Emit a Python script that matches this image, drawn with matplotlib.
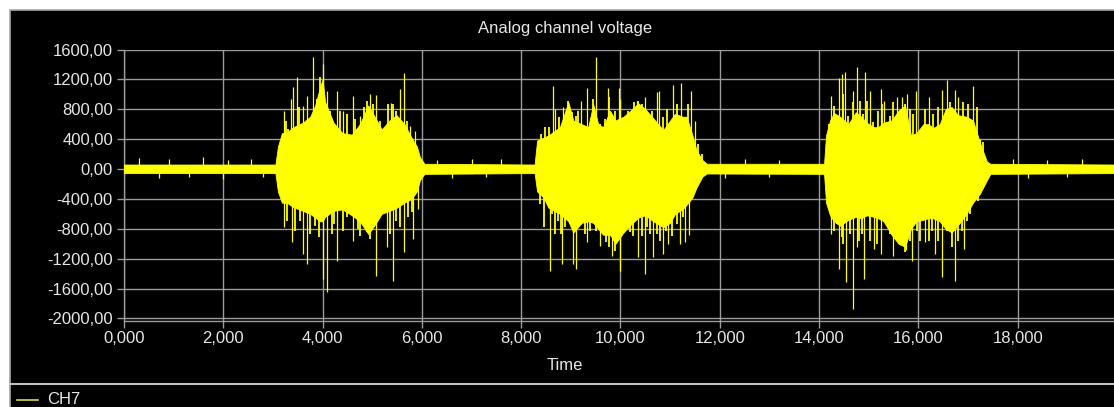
import matplotlib
matplotlib.use("Agg")
import matplotlib.pyplot as plt
from matplotlib.patches import Rectangle
from matplotlib.lines import Line2D
from matplotlib.ticker import FuncFormatter

# ---------------- data ----------------
title = "Analog channel voltage"
x_label = "Time"
series_name = "CH7"

# envelope of the dense signal: time (s), upper and lower value
env_t = [0.0, 3.05, 3.10, 3.18, 3.30, 3.41, 3.60, 3.75, 3.85, 3.95, 4.00, 4.05, 4.22, 4.40,
         4.59, 4.75, 4.92, 5.05, 5.19, 5.35, 5.49, 5.65, 5.79, 5.90, 5.96, 6.05,
         8.27, 8.32, 8.45, 8.55, 8.78, 8.95, 9.05, 9.22, 9.35, 9.45, 9.55, 9.65, 9.79,
         9.90, 10.06, 10.20, 10.36, 10.50, 10.66, 10.86, 11.00, 11.10, 11.25, 11.33,
         11.45, 11.53, 11.65, 11.74,
         14.10, 14.14, 14.22, 14.30, 14.42, 14.59, 14.74, 14.85, 14.96, 15.10, 15.19,
         15.30, 15.46, 15.60, 15.73, 15.85, 15.96, 16.10, 16.20, 16.30, 16.43, 16.55,
         16.67, 16.80, 16.97, 17.10, 17.24, 17.38, 17.45, 19.94]
env_hi = [60, 60, 300, 480, 500, 560, 620, 700, 850, 1100, 1200, 900, 620, 480,
          460, 600, 850, 700, 530, 650, 720, 600, 420, 300, 160, 70,
          60, 380, 420, 450, 560, 895, 650, 600, 560, 870, 600, 560, 780,
          650, 700, 780, 880, 800, 680, 520, 650, 740, 700, 700,
          450, 250, 120, 70,
          70, 450, 650, 750, 700, 600, 760, 700, 620, 560, 560,
          620, 650, 780, 850, 450, 480, 600, 600, 550, 600, 800,
          830, 720, 700, 650, 350, 100, 70, 60]
env_lo = [-55, -55, -300, -450, -460, -510, -560, -600, -650, -700, -700, -640, -560, -540,
          -620, -700, -870, -750, -600, -560, -520, -450, -400, -300, -150, -65,
          -55, -300, -380, -520, -600, -700, -850, -720, -700, -720, -800, -880, -880,
          -1000, -850, -750, -650, -620, -700, -780, -720, -600, -540, -480,
          -380, -250, -100, -60,
          -65, -450, -620, -700, -760, -680, -640, -660, -620, -640, -660,
          -700, -880, -1000, -1040, -800, -700, -680, -660, -660, -700, -800,
          -850, -750, -600, -450, -330, -150, -65, -55]

# tall individual spikes: time (s), value
spike_up_t = [3.22, 3.36, 3.41, 3.49, 3.60, 3.68, 3.81, 4.01, 4.08, 4.30, 4.42, 4.61, 4.75,
              4.96, 5.08, 5.37, 5.56, 5.64, 5.77, 5.86,
              8.65, 8.69, 8.84, 9.20, 9.32, 9.51, 9.74, 9.96, 9.99, 10.33, 10.49, 10.73,
              10.78, 11.05, 11.22, 11.43, 11.50,
              14.25, 14.41, 14.46, 14.53, 14.68, 14.76, 14.92, 15.02, 15.24, 15.31, 15.57,
              15.68, 15.78, 15.96, 16.22, 16.47, 16.57, 16.73, 16.80, 17.09, 17.25,
              0.30, 0.90, 1.60, 2.10, 2.55, 6.30, 7.00, 7.60, 12.50, 13.20, 17.90, 18.60, 19.30]
spike_up_v = [780, 935, 1100, 1230, 850, 980, 1500, 1405, 1050, 1050, 780, 980, 715,
              1000, 995, 880, 1070, 1280, 580, 510,
              1115, 800, 825, 905, 1090, 1500, 1080, 1085, 935, 915, 970, 1025,
              1040, 1130, 1145, 1050, 645,
              980, 1225, 1270, 1295, 1050, 1360, 1305, 1050, 1070, 915, 970,
              960, 1000, 1040, 960, 1055, 1190, 1055, 970, 1115, 400,
              150, 130, 160, 120, 140, 120, 140, 130, 130, 120, 140, 120, 130]
spike_dn_t = [3.22, 3.38, 3.61, 3.68, 4.01, 4.08, 4.30, 4.62, 5.08, 5.29, 5.42, 5.63, 5.83, 5.93,
              8.58, 8.83, 9.05, 9.10, 9.32, 9.59, 9.82, 9.99, 10.36, 10.49, 10.66, 10.85,
              10.96, 11.20, 11.30, 11.37,
              14.23, 14.41, 14.54, 14.68, 14.76, 14.91, 15.11, 15.24, 15.49, 15.76, 15.88,
              16.13, 16.33, 16.48, 16.74, 16.92,
              0.70, 1.30, 2.00, 2.80, 6.60, 7.30, 12.10, 13.00, 18.20, 19.00]
spike_dn_v = [-780, -980, -1140, -1270, -1470, -1650, -1225, -960, -1430, -1050, -1495, -1115,
              -935, -535,
              -1360, -1270, -1270, -1340, -980, -1025, -1160, -1360, -1180, -1405, -1180,
              -1140, -1000, -1000, -980, -890,
              -870, -1340, -1515, -1870, -1050, -1470, -1070, -1140, -1160, -1090, -1225,
              -980, -1140, -1450, -1495, -1070,
              -120, -110, -130, -110, -120, -110, -120, -110, -120, -110]

# shorter spikes forming the ragged edge of each burst: time (s), value
minor_up_t = [3.263, 3.309, 3.531, 3.746, 3.894, 3.947, 4.149, 4.350, 4.498, 4.652, 4.834,
              4.901, 5.008, 5.156, 5.324, 5.424, 5.478, 5.693,
              8.391, 8.479, 8.566, 8.767, 8.948, 9.029, 9.103, 9.150, 9.438, 9.586, 9.687,
              9.774, 9.888, 10.157, 10.271, 10.358, 10.425, 10.627, 10.862, 10.929, 11.130,
              11.365, 11.567, 11.634,
              14.205, 14.299, 14.487, 14.588, 14.689, 14.823, 14.877, 14.971, 15.092, 15.192,
              15.259, 15.427, 15.494, 15.729, 15.830, 15.897, 16.132, 16.300, 16.400, 16.635,
              16.904, 17.005, 17.173, 17.307]
minor_up_v = [646, 535, 825, 646, 937, 1226, 780, 780, 736, 669, 825,
              914, 870, 646, 870, 870, 780, 646,
              468, 557, 557, 691, 914, 758, 713, 780, 937, 602, 669,
              959, 780, 780, 892, 914, 870, 780, 691, 803, 870,
              870, 334, 201,
              602, 847, 1003, 713, 892, 914, 736, 914, 624, 780,
              870, 713, 892, 870, 803, 736, 803, 736, 825, 892,
              892, 870, 825, 357]
minor_dn_t = [3.276, 3.444, 3.545, 3.746, 3.847, 3.934, 4.182, 4.229, 4.417, 4.498, 4.706,
              4.753, 4.887, 4.954, 5.156, 5.357, 5.478, 5.559, 5.726, 5.794,
              8.378, 8.458, 8.613, 8.680, 8.747, 8.794, 8.881, 8.982, 9.150, 9.284, 9.385,
              9.506, 9.620, 9.707, 9.774, 9.888, 10.056, 10.123, 10.190, 10.257, 10.425,
              10.526, 10.593, 10.727, 10.794, 10.915, 11.029, 11.130, 11.264, 11.432,
              14.299, 14.353, 14.454, 14.487, 14.622, 14.810, 14.857, 15.024, 15.159, 15.360,
              15.427, 15.528, 15.662, 15.729, 15.830, 15.964, 16.031, 16.219, 16.266, 16.400,
              16.568, 16.669, 16.803, 16.870, 16.971, 17.038, 17.206]
minor_dn_v = [-691, -825, -691, -870, -758, -914, -870, -736, -825, -647, -803,
              -892, -847, -936, -602, -870, -691, -780, -647, -580,
              -468, -780, -602, -870, -691, -870, -780, -736, -736, -870, -825,
              -825, -780, -981, -1048, -1093, -825, -736, -847, -892, -892,
              -780, -870, -870, -959, -825, -892, -736, -647, -379,
              -825, -736, -914, -1003, -870, -959, -870, -959, -1003, -736,
              -870, -736, -1003, -1115, -959, -825, -959, -959, -825, -959,
              -825, -1048, -959, -825, -691, -602, -424]

x_ticks = [0, 2, 4, 6, 8, 10, 12, 14, 16, 18]
y_ticks = [1600, 1200, 800, 400, 0, -400, -800, -1200, -1600, -2000]

# ---------------- figure ----------------
W, H = 1114, 407
plt.rcParams["font.family"] = ["Liberation Sans", "DejaVu Sans"]
fig = plt.figure(figsize=(W / 100, H / 100), dpi=100, facecolor="white")


def fx(px):
    return px / W


def fy(py):
    return 1 - py / H


GRID = "#9a9a9a"
TXT = "#e6e6e6"
YEL = "#ffff00"

# black panel with grey border (drawn behind everything)
fig.patches.append(Rectangle((fx(9.5), fy(H + 5)), 1.2, fy(9.5) - fy(H + 5),
                             transform=fig.transFigure, facecolor="black",
                             edgecolor="#a8a8a8", linewidth=1.2, zorder=-10))
# separator between plot and legend area
fig.lines.append(Line2D([fx(10), 1], [fy(383.5), fy(383.5)], transform=fig.transFigure,
                        color="#c0c0c0", linewidth=1.5, zorder=-5))

left, right = 124, 1114
top, bottom = 49.5, 321
ax = fig.add_axes([fx(left), fy(bottom), fx(right) - fx(left), fy(top) - fy(bottom)])
ax.set_zorder(5)
ax.set_facecolor("black")
ax.set_xlim(0, 19.94)
ax.set_ylim(-2035, 1600)

ax.fill_between(env_t, env_lo, env_hi, color=YEL, linewidth=0.6, edgecolor=YEL, zorder=3)
ax.vlines(spike_up_t, 0, spike_up_v, color=YEL, linewidth=0.9, zorder=3)
ax.vlines(spike_dn_t, 0, spike_dn_v, color=YEL, linewidth=0.9, zorder=3)
ax.vlines(minor_up_t, 0, minor_up_v, color=YEL, linewidth=1.3, zorder=3)
ax.vlines(minor_dn_t, 0, minor_dn_v, color=YEL, linewidth=1.3, zorder=3)

ax.set_xticks(x_ticks)
ax.set_yticks(y_ticks)
ax.xaxis.set_major_formatter(FuncFormatter(lambda v, p: f"{v:.3f}".replace(".", ",")))
ax.yaxis.set_major_formatter(FuncFormatter(lambda v, p: f"{v:.2f}".replace(".", ",")))
ax.grid(True, color=GRID, linewidth=1.0, zorder=1)
ax.set_axisbelow(True)
for s in ("top", "right"):
    ax.spines[s].set_visible(False)
for s in ("left", "bottom"):
    ax.spines[s].set_color(GRID)
    ax.spines[s].set_linewidth(1.0)
ax.tick_params(axis="both", colors=GRID, labelcolor=TXT, labelsize=12, length=5, width=1.0)
ax.tick_params(axis="x", pad=2)
ax.tick_params(axis="y", pad=3)

fig.text(fx(565), fy(29), title, color=TXT, fontsize=12, ha="center", va="center")
fig.text(fx(565), fy(366), x_label, color=TXT, fontsize=12, ha="center", va="center")

# legend
fig.lines.append(Line2D([fx(17), fx(38)], [fy(400), fy(400)], transform=fig.transFigure,
                        color="#d8d840", linewidth=1.2))
fig.text(fx(47), fy(400), series_name, color=TXT, fontsize=12, ha="left", va="center")

fig.savefig("out.png", dpi=100, facecolor="white")
